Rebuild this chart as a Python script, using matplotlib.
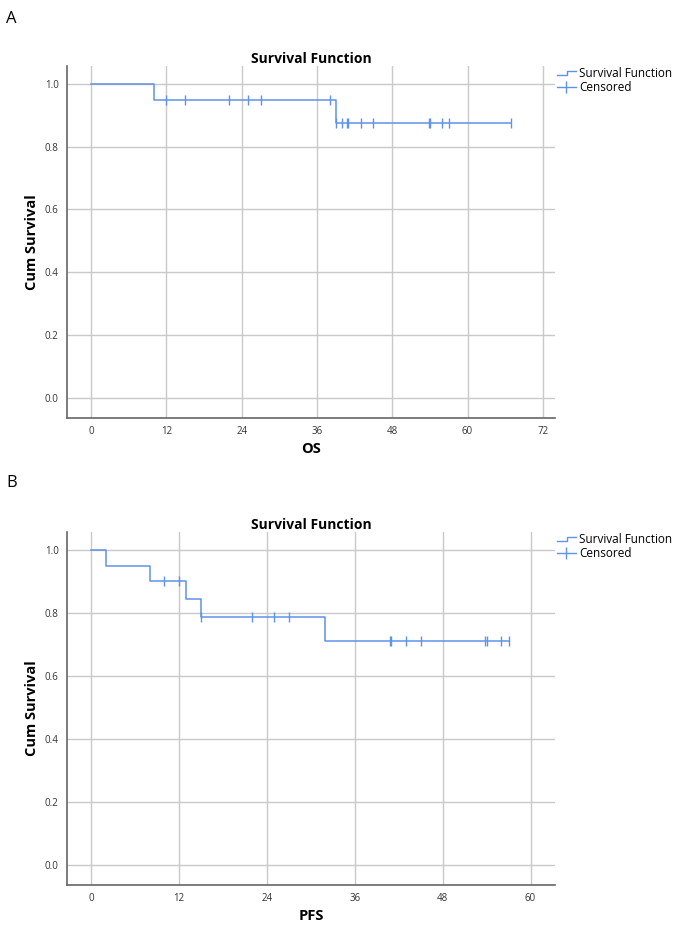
import matplotlib
matplotlib.use("Agg")
import matplotlib.pyplot as plt
from matplotlib.lines import Line2D
from matplotlib.legend_handler import HandlerBase
import numpy as np

plt.rcParams['font.family'] = ['Open Sans', 'DejaVu Sans']

# OS panel (A)
os_step_times = [0, 10, 39]
os_step_surv = [1.0, 0.95, 0.877]
os_end = 67
os_censored = [12, 15, 22, 25, 27, 38, 39, 40, 40.8, 41, 43, 45, 53.8, 54, 56, 57, 67]
os_xticks = [0, 12, 24, 36, 48, 60, 72]

# PFS panel (B)
pfs_step_times = [0, 2, 8, 13, 15, 32]
pfs_step_surv = [1.0, 0.95, 0.9, 0.844, 0.788, 0.709]
pfs_end = 57
pfs_censored = [10, 12, 15, 22, 25, 27, 40.8, 41, 43, 45, 53.8, 54, 56, 57]
pfs_xticks = [0, 12, 24, 36, 48, 60]

yticks = [0.0, 0.2, 0.4, 0.6, 0.8, 1.0]

BLUE = '#5f93e8'
GRID = '#c9c9c9'


class StepHandler(HandlerBase):
    def create_artists(self, legend, orig_handle, xdescent, ydescent,
                       width, height, fontsize, trans):
        x0, x1 = -xdescent, -xdescent + width
        ym = height / 2 - ydescent
        xs = [x0, x0 + width * 0.55, x0 + width * 0.55, x1]
        ys = [ym - height * 0.25, ym - height * 0.25, ym + height * 0.3, ym + height * 0.3]
        ln = Line2D(xs, ys, color=BLUE, lw=1.0, transform=trans)
        return [ln]


def surv_at(times, surv, t):
    idx = np.searchsorted(times, t, side='right') - 1
    return surv[idx]


def draw_panel(ax, step_times, step_surv, end, censored, xticks, xlim, xlabel):
    xs = list(step_times) + [end]
    ys = list(step_surv) + [step_surv[-1]]
    ax.step(xs, ys, where='post', color=BLUE, lw=1.1, zorder=3)
    cy = [surv_at(step_times, step_surv, t) for t in censored]
    ax.plot(censored, cy, linestyle='none', marker='|', markersize=7,
            mew=1.0, color=BLUE, zorder=4)

    ax.set_xlim(*xlim)
    ax.set_ylim(-0.065, 1.057)
    ax.set_xticks(xticks)
    ax.set_yticks(yticks)
    ax.set_yticklabels([f'{v:.1f}' for v in yticks])
    ax.tick_params(length=0, labelsize=7, colors='#333333', pad=6)
    ax.grid(True, color=GRID, lw=1.0)
    ax.set_axisbelow(True)
    for s in ['top', 'right']:
        ax.spines[s].set_visible(False)
    for s in ['left', 'bottom']:
        ax.spines[s].set_color('#666666')
        ax.spines[s].set_linewidth(1.2)

    ax.set_title('Survival Function', fontsize=10, fontweight='bold', pad=2)
    ax.set_ylabel('Cum Survival', fontsize=10.5, fontweight='bold', labelpad=4)
    ax.set_xlabel(xlabel, fontsize=10.5, fontweight='bold', labelpad=3)

    h_step = Line2D([], [], color=BLUE)
    h_cens = Line2D([], [], color=BLUE, marker='|', markersize=9, lw=1.0)
    ax.legend([h_step, h_cens], ['Survival Function', 'Censored'],
              handler_map={h_step: StepHandler()},
              loc='upper left', bbox_to_anchor=(0.995, 1.01), frameon=False,
              fontsize=8.5, handlelength=1.6, handletextpad=0.3,
              labelspacing=0.05, borderaxespad=0.0)


fig = plt.figure(figsize=(6.85, 9.31), dpi=100)

ax1 = fig.add_axes([0.0978, 0.551, 0.712, 0.378])
draw_panel(ax1, os_step_times, os_step_surv, os_end, os_censored,
           os_xticks, (-3.85, 73.9), 'OS')

ax2 = fig.add_axes([0.0978, 0.0494, 0.712, 0.3792])
draw_panel(ax2, pfs_step_times, pfs_step_surv, pfs_end, pfs_censored,
           pfs_xticks, (-3.3, 63.3), 'PFS')

fig.text(0.009, 0.980, 'A', fontsize=12, va='center', ha='left')
fig.text(0.009, 0.481, 'B', fontsize=12, va='center', ha='left')

fig.savefig('out.png', dpi=100)
